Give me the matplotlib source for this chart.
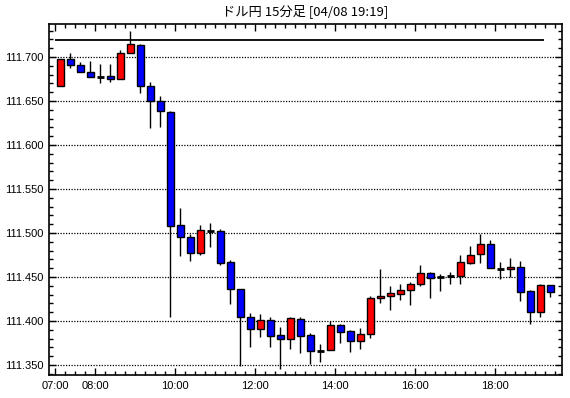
import matplotlib
matplotlib.use("Agg")
import matplotlib.pyplot as plt
from matplotlib.ticker import FixedLocator, MultipleLocator, FuncFormatter
import numpy as np

title = "ドル円 15分足 [04/08 19:19]"
opens = [111.667, 111.698, 111.691, 111.683, 111.677, 111.678, 111.675, 111.705, 111.714, 111.667,
         111.650, 111.638, 111.509, 111.495, 111.477, 111.502, 111.502, 111.467, 111.436, 111.404,
         111.391, 111.401, 111.384, 111.379, 111.402, 111.384, 111.366, 111.367, 111.396, 111.389,
         111.377, 111.385, 111.426, 111.428, 111.431, 111.435, 111.442, 111.455, 111.450, 111.451,
         111.451, 111.466, 111.476, 111.488, 111.459, 111.459, 111.461, 111.434, 111.410, 111.441]
highs = [111.698, 111.705, 111.694, 111.696, 111.692, 111.692, 111.708, 111.729, 111.715, 111.672,
         111.656, 111.639, 111.528, 111.499, 111.509, 111.511, 111.505, 111.469, 111.436, 111.409,
         111.408, 111.405, 111.393, 111.405, 111.404, 111.386, 111.374, 111.400, 111.397, 111.390,
         111.392, 111.428, 111.459, 111.440, 111.442, 111.444, 111.464, 111.456, 111.453, 111.456,
         111.475, 111.485, 111.499, 111.492, 111.467, 111.472, 111.468, 111.435, 111.442, 111.441]
lows = [111.667, 111.688, 111.683, 111.677, 111.671, 111.672, 111.675, 111.705, 111.659, 111.619,
        111.621, 111.405, 111.474, 111.468, 111.475, 111.484, 111.464, 111.419, 111.349, 111.371,
        111.382, 111.371, 111.346, 111.368, 111.364, 111.351, 111.353, 111.367, 111.375, 111.365,
        111.368, 111.381, 111.420, 111.412, 111.424, 111.418, 111.440, 111.426, 111.434, 111.442,
        111.442, 111.465, 111.466, 111.460, 111.448, 111.450, 111.423, 111.397, 111.405, 111.427]
closes = [111.698, 111.691, 111.683, 111.677, 111.677, 111.675, 111.705, 111.715, 111.667, 111.650,
          111.639, 111.508, 111.495, 111.477, 111.503, 111.502, 111.466, 111.436, 111.404, 111.391,
          111.401, 111.383, 111.379, 111.403, 111.383, 111.366, 111.366, 111.396, 111.388, 111.377,
          111.385, 111.426, 111.428, 111.432, 111.435, 111.442, 111.455, 111.449, 111.450, 111.451,
          111.467, 111.475, 111.488, 111.460, 111.459, 111.461, 111.433, 111.410, 111.441, 111.433]
hour_labels = ["07:00", "08:00", "10:00", "12:00", "14:00", "16:00", "18:00"]
label_hours = [7, 8, 10, 12, 14, 16, 18]
ref_level = 111.719
ref_span = (-0.5, 48.4)
y_major = [111.350, 111.400, 111.450, 111.500, 111.550, 111.600, 111.650, 111.700]

W, H = 570, 398
fig = plt.figure(figsize=(W / 100, H / 100), dpi=100)
fig.patch.set_facecolor("white")
L, R, T, B = 49, 562, 24, 375
ax = fig.add_axes([L / W, 1 - B / H, (R - L) / W, (B - T) / H])

font = ["Liberation Sans", "DejaVu Sans"]

x = np.arange(len(opens))
o = np.array(opens); h = np.array(highs); l = np.array(lows); c = np.array(closes)

# wicks
ax.vlines(x, l, h, color="black", linewidth=1.0, zorder=3)
# bodies
up = c > o
down = c < o
doji = c == o
bw = 0.7
ax.bar(x[up], (c - o)[up], bottom=o[up], width=bw, color="#ff0000",
       edgecolor="black", linewidth=1.0, zorder=4)
ax.bar(x[down], (o - c)[down], bottom=c[down], width=bw, color="#0000ff",
       edgecolor="black", linewidth=1.0, zorder=4)
ax.hlines(o[doji], x[doji] - bw / 2, x[doji] + bw / 2, color="black", linewidth=2.0, zorder=4)

# reference line
ax.hlines(ref_level, ref_span[0], ref_span[1], color="black", linewidth=1.3, zorder=3)

# grid
for yv in y_major:
    ax.axhline(yv, color="black", linewidth=0.9, linestyle=(0, (1, 1.2)), zorder=1)

ax.set_xlim((L - 60) / 10, (R - 60) / 10)
ax.set_ylim(111.350 - (B - 365) / 880, 111.700 + (57 - T) / 880)

# x ticks
major_x = [-0.5 + 4 * (hh - 7) for hh in label_hours]
ax.xaxis.set_major_locator(FixedLocator(major_x))
ax.set_xticklabels(hour_labels)
ax.xaxis.set_minor_locator(FixedLocator(np.arange(-0.5, 50.5, 1.0)))
# y ticks
ax.yaxis.set_major_locator(FixedLocator(y_major))
ax.yaxis.set_major_formatter(FuncFormatter(lambda v, p: f"{v:.3f}"))
ax.yaxis.set_minor_locator(MultipleLocator(0.01))

ax.tick_params(which="both", direction="in", top=True, right=True, color="black", width=1)
ax.tick_params(which="major", length=5, pad=4, labelsize=8, labelcolor="black")
ax.tick_params(which="minor", length=3)
for lab in ax.get_xticklabels() + ax.get_yticklabels():
    lab.set_family(font)

for s in ax.spines.values():
    s.set_color("black")
    s.set_linewidth(1.2)

fig.text((L + R) / 2 / W, 1 - 11 / H, title, ha="center", va="center",
         fontsize=9.5, family=["Noto Sans CJK JP", "DejaVu Sans"])

fig.savefig("out.png", dpi=100, facecolor="white")
